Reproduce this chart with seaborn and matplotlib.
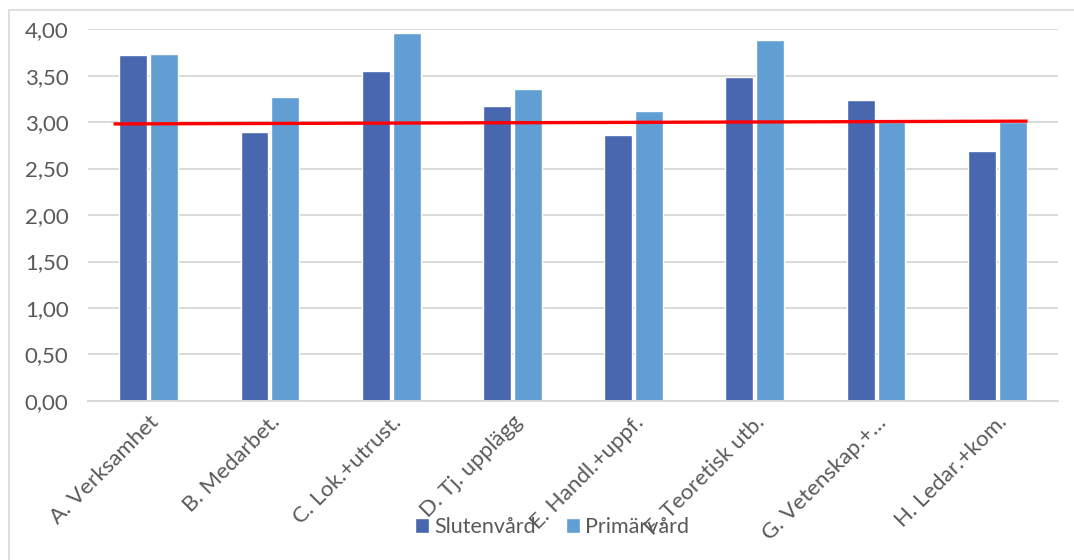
import matplotlib
matplotlib.use("Agg")
import matplotlib.pyplot as plt
from matplotlib.patches import Rectangle
from matplotlib.ticker import FixedLocator, FuncFormatter
import seaborn as sns
import pandas as pd
import numpy as np

categories = ["A. Verksamhet", "B. Medarbet.", "C. Lok.+utrust.", "D. Tj. upplägg",
              "E. Handl.+uppf.", "F. Teoretisk utb.", "G. Vetenskap.+…", "H. Ledar.+kom."]
slutenvard = [3.72, 2.89, 3.55, 3.17, 2.86, 3.48, 3.24, 2.69]
primarvard = [3.73, 3.27, 3.96, 3.36, 3.12, 3.88, 3.00, 3.00]
series_names = ["Slutenvård", "Primärvård"]
ref_line = [2.98, 3.01]
y_ticks = [0, 0.5, 1.0, 1.5, 2.0, 2.5, 3.0, 3.5, 4.0]

df = pd.DataFrame({
    "Område": categories * 2,
    "Värde": slutenvard + primarvard,
    "Grupp": [series_names[0]] * len(categories) + [series_names[1]] * len(categories),
})

sns.set_theme(style="white")
plt.rcParams["font.family"] = ["Lato", "DejaVu Sans"]
text_color = "#595959"
grid_color = "#D9D9D9"

fig = plt.figure(figsize=(10.74, 5.6), dpi=100)
ax = fig.add_axes([0.082, 0.284, 0.903, 0.664])

palette = {"Slutenvård": "#4967AE", "Primärvård": "#619ED3"}
sns.barplot(data=df, x="Område", y="Värde", hue="Grupp", palette=palette,
            width=0.51, gap=0.1, ax=ax, saturation=1, legend=True)

# horizontal reference line across all categories
ax.plot([-0.29, 7.25], ref_line, color="#FF0000", lw=2.4, solid_capstyle="butt", zorder=5)

ax.set_xlim(-0.5, len(categories) - 0.5)
ax.set_ylim(0, 4)
ax.yaxis.set_major_locator(FixedLocator(y_ticks))
ax.yaxis.set_major_formatter(FuncFormatter(lambda v, p: f"{v:.2f}".replace(".", ",")))
ax.grid(axis="y", color=grid_color, lw=1.4)
ax.set_axisbelow(True)
for s in ["top", "right", "left"]:
    ax.spines[s].set_visible(False)
ax.spines["bottom"].set_color(grid_color)
ax.spines["bottom"].set_linewidth(1.4)
ax.set_xlabel("")
ax.set_ylabel("")

ax.tick_params(axis="y", length=0, labelsize=16, labelcolor=text_color, pad=14)
ax.tick_params(axis="x", which="major", length=0, labelsize=16, labelcolor=text_color, pad=8)
ax.set_xticks(np.arange(-0.5, len(categories) + 0.5, 1), minor=True)
ax.tick_params(axis="x", which="minor", length=6, width=1.4, color=grid_color)
ax.set_xticks(range(len(categories)))
ax.set_xticklabels(categories, rotation=45, ha="right", rotation_mode="anchor")

leg = ax.legend(loc="center", bbox_to_anchor=(0.514, 0.059), bbox_transform=fig.transFigure,
                ncol=2, frameon=False, fontsize=15.5, handlelength=0.65, handleheight=0.65,
                handletextpad=0.25, columnspacing=1.4, borderpad=0)
for t in leg.get_texts():
    t.set_color(text_color)

# chart border (top and left edges inside the canvas)
fig.patches.append(Rectangle((9 / 1074, -0.05), 1.1, 1 - 10 / 560 + 0.05,
                             transform=fig.transFigure, fill=False,
                             edgecolor=grid_color, lw=1.2, zorder=-1))

fig.savefig("out.png", dpi=100, facecolor="white")
